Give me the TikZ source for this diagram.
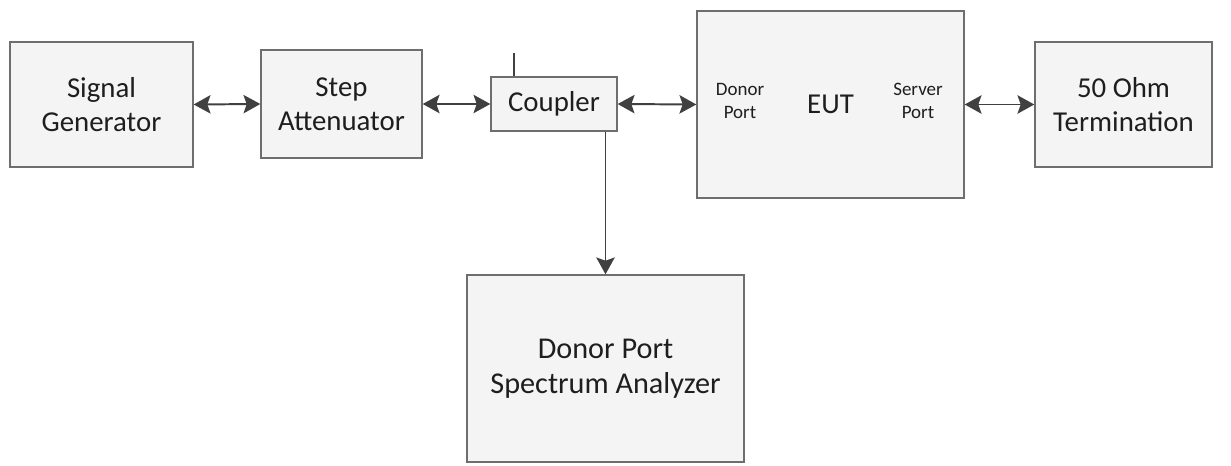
\documentclass[tikz,border=0pt]{standalone}
\usepackage{fontspec}
\setmainfont{Carlito}
\usepackage{xcolor}
\usetikzlibrary{positioning,calc,arrows.meta}
\definecolor{boxline}{RGB}{110,110,110}
\definecolor{boxfill}{RGB}{244,244,244}
\definecolor{wire}{RGB}{64,64,64}
\definecolor{ink}{RGB}{30,30,30}

\begin{document}
\begin{tikzpicture}[
    block/.style={draw=boxline, fill=boxfill, line width=1pt, text=ink, align=center,
        font=\fontsize{20.5}{24}\selectfont, inner sep=0pt},
    portlabel/.style={text=ink, align=center, font=\fontsize{13.5}{16}\selectfont},
    link/.style={draw=wire, line width=1.4pt,
        {Stealth[length=0.42cm, width=0.46cm, inset=0.08cm]}-{Stealth[length=0.42cm, width=0.46cm, inset=0.08cm]}},
    feed/.style={draw=wire, line width=1.4pt, -{Stealth[length=0.42cm, width=0.46cm, inset=0.08cm]}}
]
    \useasboundingbox (0,0) rectangle (30.775,11.625);

    \node[block, minimum width=4.575cm, minimum height=3.125cm] (siggen) at (2.5375,9.0125) {Signal\\Generator};
    \node[block, minimum width=4.025cm, minimum height=2.7cm] (atten) at (8.5375,9.025) {Step\\Attenuator};
    \node[block, minimum width=3.15cm, minimum height=1.35cm] (coupler) at (13.85,9.025) {Coupler};
    \node[block, minimum width=6.675cm, minimum height=4.675cm] (eut) at (20.7625,9.0125) {EUT};
    \node[block, minimum width=4.425cm, minimum height=3.125cm] (term) at (28.0875,9.0125) {50 Ohm\\Termination};
    \node[block, minimum width=6.925cm, minimum height=4.675cm, font=\fontsize{21.5}{25}\selectfont] (analyzer) at (15.1375,2.4125) {Donor Port\\Spectrum Analyzer};

    % ports inside the EUT
    \node[portlabel] (donor) at (18.5,9.1) {Donor\\Port};
    \node[portlabel] (server) at (22.95,9.1) {Server\\Port};

    \draw[link] (siggen.east) -- (atten.west);
    \draw[link] (atten.east) -- (coupler.west);
    \draw[link] (coupler.east) -- (eut.west);
    \draw[link] (eut.east) -- (term.west);

    \coordinate (stub) at (12.85,10.3);
    \draw[draw=wire, line width=1pt] (coupler.north -| stub) -- (stub);
    \draw[feed] (coupler.south -| analyzer.north) -- (analyzer.north);
\end{tikzpicture}
\end{document}
